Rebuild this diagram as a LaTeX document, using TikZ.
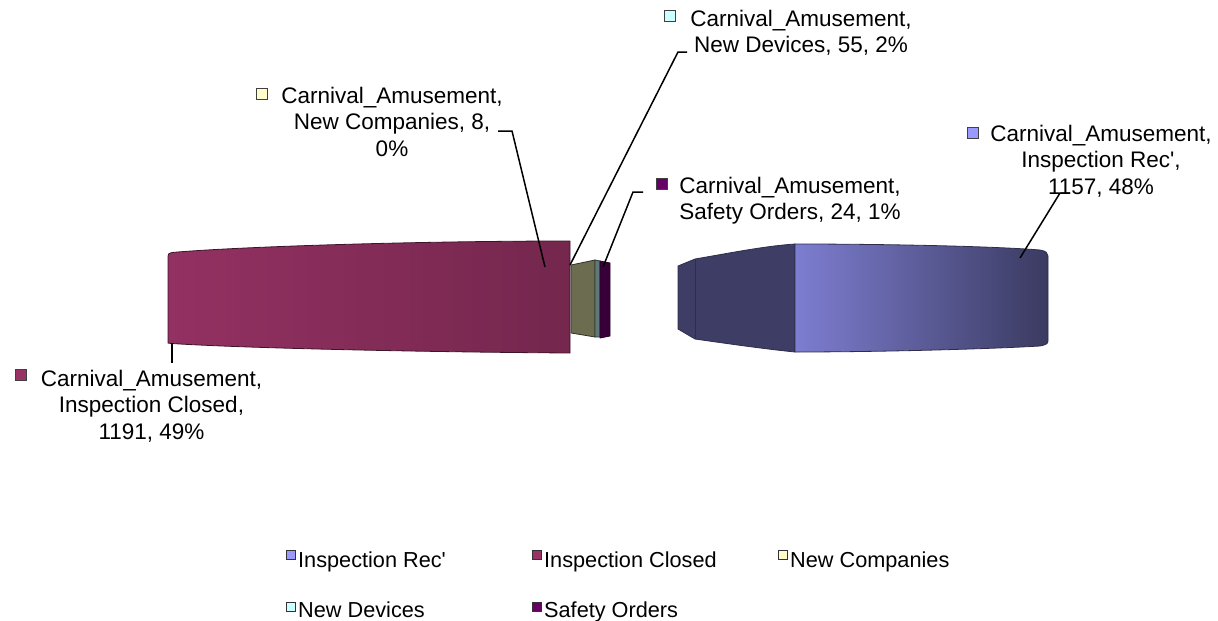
\documentclass[tikz,border=0pt]{standalone}
\usepackage{fontspec}
\setmainfont{Liberation Sans}[Ligatures=TeXOff]
\definecolor{cRec}{HTML}{9999FF}
\definecolor{cClosed}{HTML}{993366}
\definecolor{cComp}{HTML}{FFFFCC}
\definecolor{cDev}{HTML}{CCFFFF}
\definecolor{cSafe}{HTML}{660066}
\definecolor{cOlive}{HTML}{6C6D50}
\definecolor{cTeal}{HTML}{5E7A77}
\begin{document}
\begin{tikzpicture}[x=1pt,y=-1pt,
  lbl/.style={align=center, inner sep=0pt, anchor=north, font=\fontsize{22.5}{26.8}\selectfont},
  lgd/.style={inner sep=0pt, anchor=base west, font=\fontsize{21.7}{26}\selectfont},
  mk/.style={draw=black!75, line width=1pt, minimum size=11pt, inner sep=0pt},
  lsq/.style={draw=black!80, line width=1pt, minimum size=9pt, inner sep=0pt},
  leader/.style={draw=black, line width=1.5pt},
  outl/.style={line width=0.8pt}]
\useasboundingbox (0,0) rectangle (1218,621);

% Inspection Closed slice
\path[outl, draw=black!60!cClosed, left color=cClosed!96!black, middle color=cClosed!94!white, right color=cClosed!76!black]
  (168,343) -- (168,256) .. controls (168,254) and (169,253) .. (172,252.5) .. controls (240,246.5) and (420,241) .. (570,241)
  -- (570,353) .. controls (420,352) and (240,348) .. (172,343.5) .. controls (169,343.3) and (168,343.2) .. (168,343) -- cycle;
% small slices
\path[outl, draw=black!55!cOlive, fill=cOlive] (571,265) -- (595,260) -- (595,337) -- (571,333) -- cycle;
\path[outl, draw=black!50!cTeal, fill=cTeal] (595,260) -- (600,261) -- (600,337) -- (595,337) -- cycle;
\path[outl, draw=black!60!cSafe, fill=cSafe!55!black] (600,261) -- (610,263) -- (610,336) -- (600,338) -- cycle;
% Inspection Rec' slice
\path[outl, draw=black!70!cRec, fill=cRec!40!black] (678,266) -- (695,259) .. controls (730,253) and (765,246) .. (795,244)
  -- (795,352) .. controls (765,349) and (730,344) .. (695,339) -- (678,329) -- cycle;
\draw[outl, draw=black!70!cRec] (695,259) -- (695,339);
\path[outl, draw=black!70!cRec, left color=cRec!82!black, middle color=cRec!58!black, right color=cRec!38!black]
  (795,244) .. controls (880,244) and (990,246) .. (1040,250) .. controls (1046,251) and (1048,253) .. (1048,256)
  -- (1048,341) .. controls (1048,344) and (1045,345) .. (1040,346) .. controls (990,349) and (880,352) .. (795,352) -- cycle;

% leader coordinates
\coordinate (aRec) at (1020,258); \coordinate (bRec) at (1060,193); \coordinate (cRecE) at (1070,193);
\coordinate (aSafe) at (603,267); \coordinate (bSafe) at (633,192); \coordinate (cSafeE) at (643,192);
\coordinate (aDev) at (570,265); \coordinate (bDev) at (678,52); \coordinate (cDevE) at (687,52);
\coordinate (aComp) at (545,267); \coordinate (bComp) at (512,131); \coordinate (cCompE) at (498,131);
\coordinate (aClosed) at (172,343); \coordinate (cClosedE) at (172,363);
\draw[leader] (aRec) -- (bRec) -- (cRecE);
\draw[leader] (aSafe) -- (bSafe) -- (cSafeE);
\draw[leader] (aDev) -- (bDev) -- (cDevE);
\draw[leader] (aComp) -- (bComp) -- (cCompE);
\draw[leader] (aClosed) -- (cClosedE);

% data labels
\node[mk, fill=cRec] (mRec) at (973,133) {};
\node[lbl] (lRec) at (1101,124.5) {Carnival\_Amusement,\\Inspection Rec',\\1157, 48\%};
\node[mk, fill=cSafe] (mSafe) at (662,184) {};
\node[lbl] (lSafe) at (790,176.5) {Carnival\_Amusement,\\Safety Orders, 24, 1\%};
\node[mk, fill=cDev] (mDev) at (670,16) {};
\node[lbl] (lDev) at (801,9.5) {Carnival\_Amusement,\\New Devices, 55, 2\%};
\node[mk, fill=cComp] (mComp) at (262,94) {};
\node[lbl] (lComp) at (392,86.5) {Carnival\_Amusement,\\New Companies, 8,\\0\%};
\node[mk, fill=cClosed] (mClosed) at (21,375) {};
\node[lbl] (lClosed) at (151.5,369.5) {Carnival\_Amusement,\\Inspection Closed,\\1191, 49\%};

% legend
\node[lsq, fill=cRec] (q1) at (291,555) {};
\node[lgd] (g1) at (298,567) {Inspection Rec'};
\node[lsq, fill=cClosed] (q2) at (537,555) {};
\node[lgd] (g2) at (544,567) {Inspection Closed};
\node[lsq, fill=cComp] (q3) at (783,555) {};
\node[lgd] (g3) at (790,567) {New Companies};
\node[lsq, fill=cDev] (q4) at (291,607) {};
\node[lgd] (g4) at (298,617) {New Devices};
\node[lsq, fill=cSafe] (q5) at (537,607) {};
\node[lgd] (g5) at (544,617) {Safety Orders};
\end{tikzpicture}
\end{document}
